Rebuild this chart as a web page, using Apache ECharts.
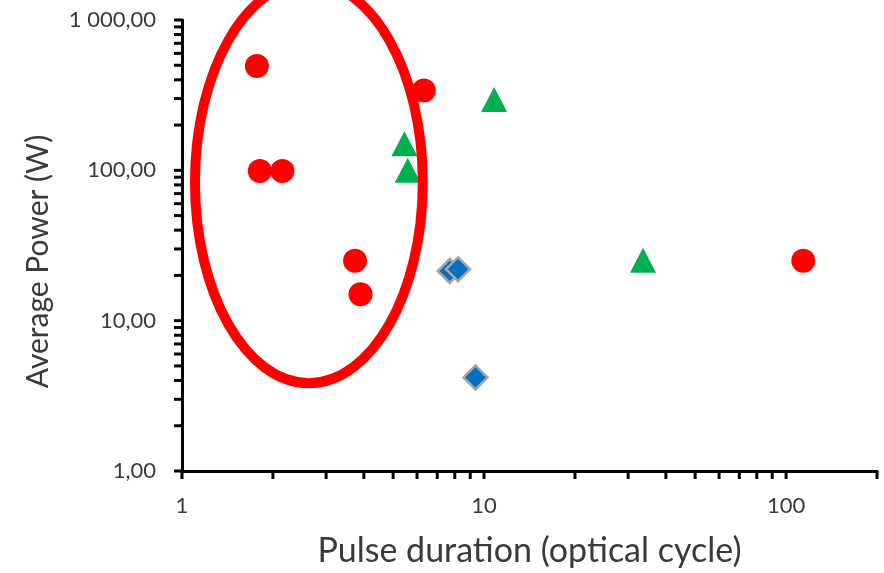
<!DOCTYPE html>
<html>
<head>
<meta charset="utf-8">
<script src="https://cdn.jsdelivr.net/npm/echarts@6/dist/echarts.min.js"></script>
<style>
  html, body { margin: 0; padding: 0; background: #fff; }
  #chart { width: 884px; height: 573px; }
</style>
</head>
<body>
<div id="chart"></div>
<script>
// data (log-log)
const circleX = [1.77, 1.81, 2.15, 3.74, 3.90, 6.32, 114];
const circleY = [495, 99, 99, 25, 15, 340, 25];
const triangleX = [5.45, 5.59, 10.8, 33.6];
const triangleY = [150, 100, 296, 25.2];
const diamondX = [7.70, 8.20, 9.37];
const diamondY = [21.4, 22.0, 4.19];

const xTickValues = [1, 10, 100];
const xTickLabels = ['1', '10', '100'];
const yTickValues = [1, 10, 100, 1000];
const yTickLabels = ['1,00', '10,00', '100,00', '1 000,00'];
// every tick mark drawn on the axes (major + minor)
const xTickMarks = [1, 2, 3, 4, 5, 6, 7, 8, 9, 10, 20, 30, 40, 50, 60, 70, 80, 90, 100, 200];
const yTickMarks = [1, 2, 3, 4, 5, 6, 7, 8, 9, 10, 20, 30, 40, 50, 60, 70, 80, 90,
  100, 200, 300, 400, 500, 600, 700, 800, 900, 1000];

// red outline around the short-pulse group, in data units
const ellipseX = [1.104, 6.27];
const ellipseY = [3.84, 1802];

const FONT = 'Lato';
const TEXT = '#3a3a3a';

function pairs(xs, ys) {
  return xs.map((x, i) => [x, ys[i]]);
}

function labelFor(values, labels) {
  return v => {
    const i = values.findIndex(t => Math.abs(t - v) / t < 1e-6);
    return i >= 0 ? labels[i] : '';
  };
}

function tickSeries(values, isX) {
  return {
    type: 'custom',
    silent: true,
    clip: false,
    z: 1,
    data: values.map(v => (isX ? [v, 1] : [1, v])),
    renderItem: (params, api) => {
      const p = api.coord([api.value(0), api.value(1)]);
      const shape = isX
        ? { x1: p[0], y1: p[1], x2: p[0], y2: p[1] + 8 }
        : { x1: p[0], y1: p[1], x2: p[0] - 8, y2: p[1] };
      return { type: 'line', shape, style: { stroke: '#000', lineWidth: 3 } };
    }
  };
}

const chart = echarts.init(document.getElementById('chart'));

chart.setOption({
  animation: false,
  grid: { left: 182, right: 7, top: 20, bottom: 101 },
  xAxis: {
    type: 'log',
    logBase: 10,
    min: 1,
    max: 200,
    name: 'Pulse duration (optical cycle)',
    nameLocation: 'middle',
    nameGap: 63,
    nameTextStyle: { fontFamily: FONT, fontSize: 34, color: TEXT },
    axisLine: { lineStyle: { color: '#000', width: 3 } },
    axisTick: { show: false },
    splitLine: { show: false },
    axisLabel: {
      margin: 24,
      fontFamily: FONT,
      fontSize: 22,
      color: TEXT,
      formatter: labelFor(xTickValues, xTickLabels)
    }
  },
  yAxis: {
    type: 'log',
    logBase: 10,
    min: 1,
    max: 1000,
    name: 'Average Power (W)',
    nameLocation: 'middle',
    nameGap: 129,
    // right padding nudges the rotated title down a little
    nameTextStyle: { fontFamily: FONT, fontSize: 30, color: TEXT, padding: [0, 32, 0, 0] },
    axisLine: { lineStyle: { color: '#000', width: 3 } },
    axisTick: { show: false },
    splitLine: { show: false },
    axisLabel: {
      margin: 26,
      fontFamily: FONT,
      fontSize: 22,
      color: TEXT,
      formatter: labelFor(yTickValues, yTickLabels)
    }
  },
  series: [
    tickSeries(xTickMarks, true),
    tickSeries(yTickMarks, false),
    {
      type: 'scatter',
      data: pairs(diamondX, diamondY),
      symbol: 'diamond',
      symbolSize: 24,
      itemStyle: { color: '#0070C0', borderColor: '#A6A6A6', borderWidth: 2.5, opacity: 1 },
      z: 3
    },
    {
      type: 'scatter',
      data: pairs(triangleX, triangleY),
      symbol: 'triangle',
      symbolSize: [26, 25],
      itemStyle: { color: '#00B050', opacity: 1 },
      z: 3
    },
    {
      type: 'scatter',
      data: pairs(circleX, circleY),
      symbol: 'circle',
      symbolSize: 24,
      itemStyle: { color: '#FF0000', opacity: 1 },
      z: 3
    }
  ]
});

const a = chart.convertToPixel({ gridIndex: 0 }, [ellipseX[0], ellipseY[0]]);
const b = chart.convertToPixel({ gridIndex: 0 }, [ellipseX[1], ellipseY[1]]);
chart.setOption({
  graphic: [{
    type: 'ellipse',
    z: 100,
    silent: true,
    shape: {
      cx: (a[0] + b[0]) / 2,
      cy: (a[1] + b[1]) / 2,
      rx: Math.abs(b[0] - a[0]) / 2,
      ry: Math.abs(b[1] - a[1]) / 2
    },
    style: { fill: 'none', stroke: '#FF0000', lineWidth: 10 }
  }]
});
</script>
</body>
</html>
